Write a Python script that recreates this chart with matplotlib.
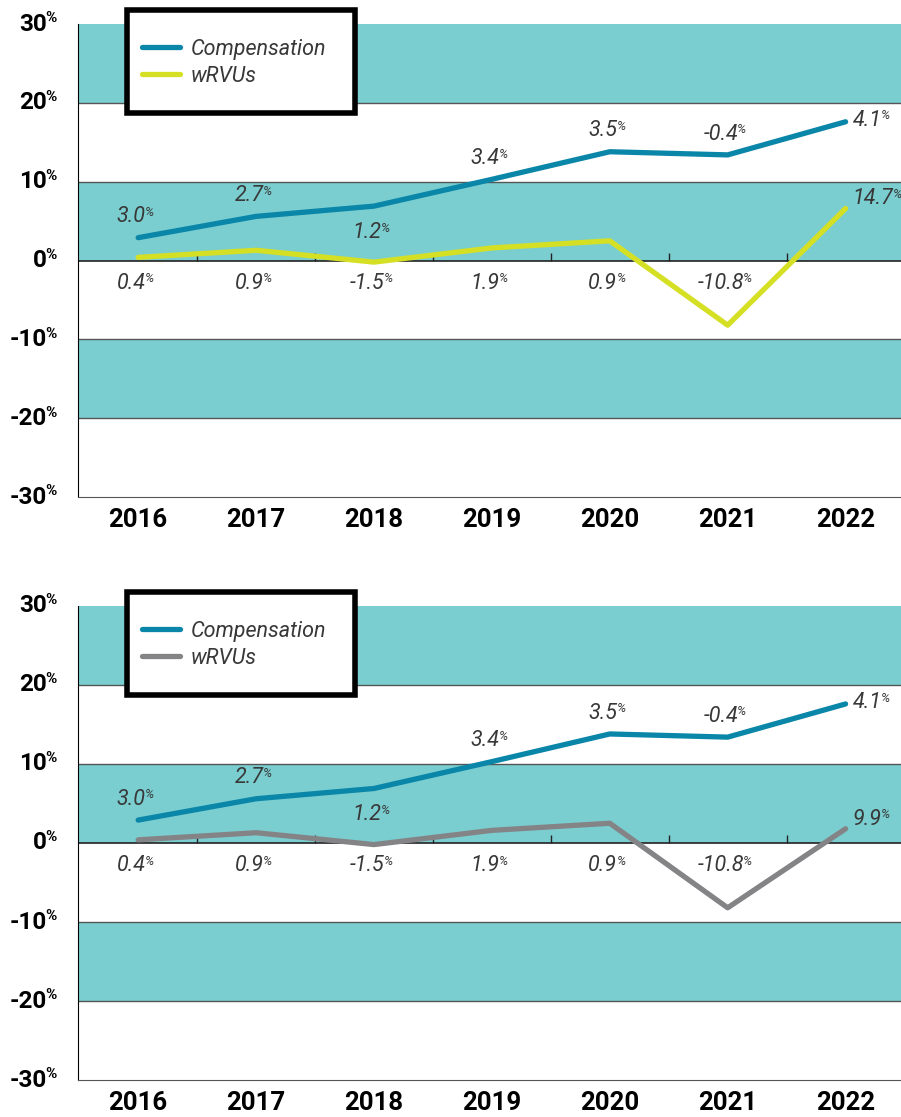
import numpy as np
import matplotlib
matplotlib.use('Agg')
import matplotlib.pyplot as plt
from matplotlib.lines import Line2D
from matplotlib.patches import Rectangle

# ── Data ─────────────────────────────────────────────────────────────────────

years = ['2016', '2017', '2018', '2019', '2020', '2021', '2022']

# cumulative growth (%)
comp_cum = [2.9, 5.6, 6.9, 10.3, 13.8, 13.4, 17.6]
wrvu_cum_top = [0.4, 1.3, -0.2, 1.6, 2.5, -8.2, 6.6]
wrvu_cum_bot = [0.4, 1.3, -0.2, 1.6, 2.5, -8.2, 1.8]

# annual change labels
comp_labels = ['3.0', '2.7', '1.2', '3.4', '3.5', '-0.4', '4.1']
wrvu_labels_top = ['0.4', '0.9', '-1.5', '1.9', '0.9', '-10.8', '14.7']
wrvu_labels_bot = ['0.4', '0.9', '-1.5', '1.9', '0.9', '-10.8', '9.9']

y_ticks = [30, 20, 10, 0, -10, -20, -30]
bands = [(20, 30), (0, 10), (-20, -10)]

BLUE = '#0A86A8'
YELLOW = '#D5E024'
GRAY = '#848487'
TEAL = '#7ACED0'
TXT = '#383838'
LBL_FONT = 'Roboto'

# ── Helpers ──────────────────────────────────────────────────────────────────

def pct_text(ax, x, y, s, dx=0, dy=0, ha='center', size=15.5):
    t = ax.annotate(s, (x, y), xytext=(dx, dy), textcoords='offset points',
                    ha=ha, va='center', fontsize=size, style='italic',
                    color=TXT, fontfamily=LBL_FONT)
    ax.annotate('%', (1, 1), xycoords=t, xytext=(-0.6, 0.3), textcoords='offset points',
                ha='left', va='top', fontsize=size * 0.6, style='italic',
                color=TXT, fontfamily=LBL_FONT)
    return t


def draw_panel(ax, wrvu, wrvu_lab, wrvu_color):
    x = np.arange(len(years))
    for lo, hi in bands:
        ax.axhspan(lo, hi, color=TEAL, lw=0, zorder=0)
    for v in [20, 10, -10, -20]:
        ax.axhline(v, color='#555555', lw=1, zorder=1)
    ax.axhline(0, color='#222222', lw=1.2, zorder=1)
    # small ticks between years on the zero line
    mids = (x[:-1] + x[1:]) / 2
    ax.vlines(mids, 0, 1.0, color='#222222', lw=1, zorder=1)

    ax.plot(x, comp_cum, color=BLUE, lw=3.8, solid_capstyle='round', zorder=3)
    ax.plot(x, wrvu, color=wrvu_color, lw=3.8, solid_capstyle='round', zorder=3)

    # compensation labels
    for i, (v, s) in enumerate(zip(comp_cum, comp_labels)):
        if i == 6:
            pct_text(ax, i, v, s, dx=5, dy=1, ha='left')
        elif i == 2:
            pct_text(ax, i, v, s, dx=-5, dy=-19)
        else:
            pct_text(ax, i, v, s, dx=-5, dy=15)
    # wRVU labels
    for i, (v, s) in enumerate(zip(wrvu, wrvu_lab)):
        if i == 6:
            pct_text(ax, i, v, s, dx=5, dy=7, ha='left')
        else:
            pct_text(ax, i, -2.9, s, dx=-5)

    ax.set_xlim(-0.51, 6.47)
    ax.set_ylim(-30, 30)
    ax.set_xticks(x)
    ax.set_xticklabels(years, fontsize=18.5, fontweight='bold', fontfamily='Roboto')
    ax.tick_params(axis='x', length=0, pad=8)
    ax.set_yticks([])
    ytr = ax.get_yaxis_transform()
    for v in y_ticks:
        t = ax.text(-0.038, v, f'{v}', transform=ytr, ha='right', va='center',
                    fontsize=17.5, fontweight='bold', fontfamily='Roboto')
        ax.annotate('%', (1, 1), xycoords=t, xytext=(-0.8, 0.8), textcoords='offset points',
                    ha='left', va='top', fontsize=11, fontweight='bold', fontfamily='Roboto')
    for s in ['top', 'right']:
        ax.spines[s].set_visible(False)
    ax.spines['left'].set_color('black')
    ax.spines['bottom'].set_color('#555555')

    # legend box (sticks out above the plot area)
    ax.add_patch(Rectangle((0.0595, 0.812), 0.277, 0.218, transform=ax.transAxes,
                           facecolor='white', edgecolor='black', lw=4,
                           clip_on=False, zorder=4))
    handles = [Line2D([], [], color=BLUE, lw=3.8, solid_capstyle='round'),
               Line2D([], [], color=wrvu_color, lw=3.8, solid_capstyle='round')]
    leg = ax.legend(handles, ['Compensation', 'wRVUs'], loc='center left',
                    bbox_to_anchor=(0.0778, 0.918), borderaxespad=0, borderpad=0,
                    prop={'family': LBL_FONT, 'style': 'italic', 'size': 15.5},
                    labelcolor=TXT, frameon=False, handlelength=1.75,
                    handletextpad=0.5, labelspacing=0.28)
    leg.set_zorder(5)


fig = plt.figure(figsize=(9.01, 11.17), dpi=100)
ax1 = fig.add_axes([0.0866, 0.555, 0.9134, 0.4235])
ax2 = fig.add_axes([0.0866, 0.0331, 0.9134, 0.4244])

draw_panel(ax1, wrvu_cum_top, wrvu_labels_top, YELLOW)
draw_panel(ax2, wrvu_cum_bot, wrvu_labels_bot, GRAY)

fig.savefig('out.png', dpi=100)
